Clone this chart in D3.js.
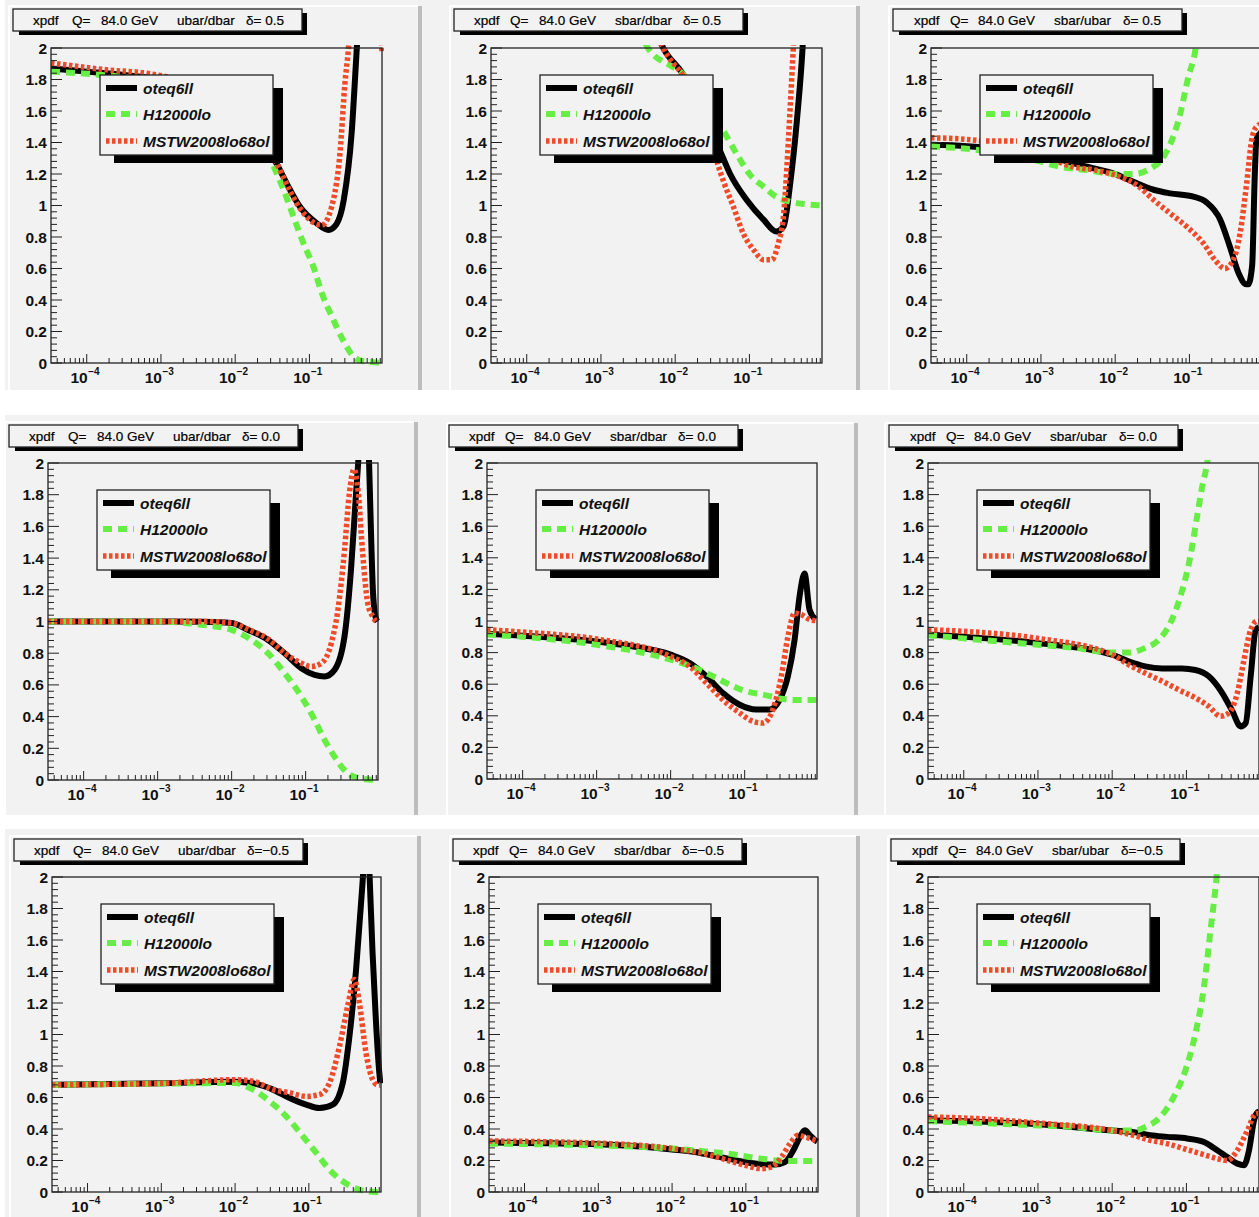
<!DOCTYPE html>
<html>
<head>
<meta charset="utf-8">
<script src="https://cdn.jsdelivr.net/npm/d3@7"></script>
<style>
  body { margin: 0; background: #fff; }
  svg { display: block; }
  .band { fill: #f2f2f2; }
  .hilite { stroke: #fff; stroke-width: 2; }
  .bevel { fill: #bdbdbd; }
  .frame { fill: none; stroke: #222; stroke-width: 1.3; }
  .tick { stroke: #222; stroke-width: 1; }
  .axlab { font-family: "Liberation Sans", Arial, sans-serif; font-weight: bold; font-size: 15.5px; fill: #111; }
  .axsup { font-family: "Liberation Sans", Arial, sans-serif; font-weight: bold; font-size: 10px; fill: #111; }
  .tbox { fill: #f2f2f2; stroke: #222; stroke-width: 1.3; }
  .shadow { fill: #000; }
  .ttext { font-family: "Liberation Sans", Arial, sans-serif; font-size: 13.5px; fill: #000; stroke: #000; stroke-width: 0.2; }
  .ltext { font-family: "Liberation Sans", Arial, sans-serif; font-weight: bold; font-style: italic; font-size: 15.5px; fill: #111; }
</style>
</head>
<body>
<script>
// ============================================================
// xpdf ratios at Q = 84 GeV, three PDF sets
// columns: ubar/dbar, sbar/dbar, sbar/ubar
// rows: delta = 0.5, 0.0, -0.5
// ============================================================

var pdfNames = ["oteq6ll", "H12000lo", "MSTW2008lo68ol"];
var ratioNames = ["ubar/dbar", "sbar/dbar", "sbar/ubar"];
var deltaLabels = ["\u03b4= 0.5", "\u03b4= 0.0", "\u03b4=\u22120.5"];
var scaleLabel = "84.0 GeV";
var xDomain = [3.3e-5, 0.95];
var yDomain = [0, 2];
var yTickValues = [0, 0.2, 0.4, 0.6, 0.8, 1, 1.2, 1.4, 1.6, 1.8, 2];
var xTickExponents = [-4, -3, -2, -1];

// ---- delta = 0.5 ----
var cteq_ud_p05 = [[3.3e-5,1.87],[1e-4,1.85],[3e-4,1.83],[1e-3,1.80],[3e-3,1.74],[1e-2,1.60],[0.02,1.46],[0.036,1.267],[0.055,1.098],[0.075,0.99],[0.126,0.887],[0.18,0.845],[0.23,0.88],[0.29,1.035],[0.37,1.457],[0.435,2.0],[0.55,2.8],[0.7,3.5],[0.95,4]];
var h1_ud_p05 = [[3.3e-5,1.85],[2.5e-4,1.82],[1e-3,1.78],[3e-3,1.70],[1e-2,1.55],[0.02,1.40],[0.033,1.246],[0.045,1.098],[0.061,0.929],[0.083,0.76],[0.113,0.612],[0.147,0.443],[0.2,0.296],[0.29,0.137],[0.41,0.032],[0.53,0.011],[0.77,0.004],[0.95,0.0]];
var mstw_ud_p05 = [[3.3e-5,1.905],[2e-4,1.86],[6.4e-4,1.84],[3e-3,1.76],[1e-2,1.62],[0.02,1.47],[0.036,1.27],[0.055,1.09],[0.075,0.98],[0.147,0.876],[0.21,1.035],[0.26,1.35],[0.30,1.77],[0.336,2.0],[0.4,2.6],[0.6,2.8],[0.85,2.3],[0.95,1.98]];

var cteq_sd_p05 = [[3.3e-5,6],[1e-3,3.5],[3e-3,2.5],[0.0069,2.0],[0.0129,1.83],[0.02,1.65],[0.03,1.48],[0.04,1.35],[0.055,1.20],[0.092,1.035],[0.155,0.91],[0.23,0.835],[0.29,0.87],[0.35,1.12],[0.44,1.56],[0.52,2.0],[0.6,2.6],[0.95,4]];
var h1_sd_p05 = [[3.3e-5,6],[1e-3,3.0],[0.0043,2.0],[0.0085,1.89],[0.011,1.86],[0.02,1.72],[0.03,1.60],[0.045,1.47],[0.067,1.33],[0.1,1.20],[0.155,1.12],[0.23,1.055],[0.35,1.025],[0.53,1.01],[0.95,1.0]];
var mstw_sd_p05 = [[3.3e-5,6],[1e-3,3.5],[3e-3,2.5],[0.0069,2.0],[0.0129,1.82],[0.02,1.66],[0.03,1.44],[0.036,1.29],[0.045,1.15],[0.061,0.99],[0.083,0.82],[0.113,0.72],[0.155,0.655],[0.2,0.655],[0.245,0.76],[0.29,0.95],[0.32,1.246],[0.35,1.58],[0.39,2.0],[0.45,2.6],[0.95,4]];

var cteq_su_p05 = [[3.3e-5,1.385],[1e-4,1.377],[3e-4,1.36],[1e-3,1.32],[0.0042,1.246],[0.01,1.20],[0.0176,1.15],[0.033,1.10],[0.055,1.077],[0.113,1.056],[0.17,1.02],[0.26,0.91],[0.35,0.74],[0.46,0.57],[0.58,0.50],[0.62,0.50],[0.7,0.62],[0.76,1.2],[0.8,1.42],[0.95,1.47]];
var h1_su_p05 = [[3.3e-5,1.375],[1e-4,1.36],[3e-4,1.33],[8e-4,1.29],[0.0018,1.246],[0.0042,1.225],[0.01,1.20],[0.0176,1.20],[0.03,1.235],[0.042,1.29],[0.058,1.415],[0.075,1.58],[0.097,1.82],[0.12,1.985],[0.15,2.4],[0.3,4],[0.95,6]];
var mstw_su_p05 = [[3.3e-5,1.43],[1e-4,1.42],[3e-4,1.39],[1e-3,1.34],[0.0022,1.257],[0.006,1.22],[0.012,1.18],[0.0195,1.13],[0.033,1.035],[0.055,0.95],[0.092,0.866],[0.154,0.76],[0.23,0.644],[0.3,0.60],[0.39,0.655],[0.48,0.82],[0.59,1.14],[0.69,1.415],[0.8,1.50],[0.95,1.52]];

// ---- delta = 0.0 ----
var cteq_ud_z00 = [[3.3e-5,1.0],[1e-3,1.0],[0.004,0.998],[0.01,0.99],[0.0167,0.947],[0.031,0.884],[0.052,0.80],[0.0875,0.705],[0.132,0.663],[0.18,0.653],[0.246,0.695],[0.335,0.905],[0.41,1.326],[0.48,1.81],[0.52,2.05],[0.6,2.8],[0.7,2.2],[0.76,1.6],[0.81,1.2],[0.87,1.04],[0.93,1.0]];
var h1_ud_z00 = [[3.3e-5,1.0],[1e-3,1.0],[0.0039,0.98],[0.01,0.947],[0.0185,0.884],[0.031,0.80],[0.052,0.674],[0.0875,0.526],[0.132,0.38],[0.18,0.253],[0.246,0.147],[0.37,0.042],[0.56,0.01],[0.93,0.0]];
var mstw_ud_z00 = [[3.3e-5,1.0],[1e-3,1.0],[0.004,1.0],[0.01,0.99],[0.0167,0.95],[0.031,0.89],[0.052,0.80],[0.0875,0.737],[0.119,0.716],[0.163,0.737],[0.222,0.863],[0.273,1.074],[0.335,1.45],[0.39,1.81],[0.45,1.96],[0.51,1.83],[0.59,1.43],[0.69,1.116],[0.81,1.03],[0.93,0.99]];

var cteq_sd_z00 = [[3.3e-5,0.92],[1e-4,0.907],[1e-3,0.87],[3e-3,0.84],[0.01,0.787],[0.0181,0.734],[0.0304,0.65],[0.051,0.544],[0.0857,0.47],[0.1436,0.44],[0.217,0.44],[0.296,0.50],[0.384,0.65],[0.473,0.88],[0.552,1.156],[0.645,1.30],[0.754,1.07],[0.908,1.01]];
var h1_sd_z00 = [[3.3e-5,0.914],[1e-4,0.90],[1e-3,0.85],[0.01,0.755],[0.0223,0.70],[0.0374,0.65],[0.063,0.597],[0.105,0.555],[0.177,0.534],[0.296,0.51],[0.497,0.50],[0.93,0.50]];
var mstw_sd_z00 = [[3.3e-5,0.945],[1e-4,0.93],[1e-3,0.886],[0.01,0.776],[0.0181,0.713],[0.0304,0.607],[0.051,0.50],[0.0857,0.418],[0.129,0.365],[0.177,0.354],[0.241,0.44],[0.313,0.65],[0.384,0.90],[0.473,1.05],[0.582,1.04],[0.754,1.01],[0.93,1.0]];

var cteq_su_z00 = [[3.3e-5,0.914],[1e-4,0.90],[1e-3,0.86],[0.01,0.787],[0.0166,0.745],[0.0279,0.713],[0.0468,0.70],[0.0873,0.70],[0.1324,0.69],[0.2,0.65],[0.304,0.544],[0.415,0.43],[0.538,0.333],[0.63,0.355],[0.734,0.65],[0.86,0.945],[0.95,0.96]];
var h1_su_z00 = [[3.3e-5,0.91],[1e-4,0.89],[1e-3,0.85],[0.00315,0.83],[0.01,0.80],[0.0166,0.80],[0.0279,0.83],[0.0423,0.88],[0.0607,0.987],[0.083,1.156],[0.113,1.41],[0.139,1.66],[0.163,1.85],[0.19,2.0],[0.25,2.6],[0.5,4],[0.95,6]];
var mstw_su_z00 = [[3.3e-5,0.945],[1e-4,0.935],[1e-3,0.89],[0.01,0.787],[0.0166,0.724],[0.0279,0.67],[0.0468,0.62],[0.0787,0.565],[0.1324,0.513],[0.2,0.46],[0.288,0.397],[0.374,0.418],[0.485,0.544],[0.597,0.755],[0.734,0.945],[0.904,1.0],[0.95,1.0]];

// ---- delta = -0.5 ----
var cteq_ud_m05 = [[3.3e-5,0.681],[1e-3,0.69],[0.01,0.70],[0.0175,0.69],[0.0327,0.65],[0.0548,0.597],[0.092,0.555],[0.139,0.533],[0.211,0.555],[0.288,0.692],[0.355,0.99],[0.436,1.41],[0.509,1.83],[0.548,2.05],[0.6,2.5],[0.66,2.05],[0.73,1.52],[0.81,1.09],[0.9,0.76],[0.93,0.69]];
var h1_ud_m05 = [[3.3e-5,0.68],[1e-3,0.688],[0.01,0.692],[0.0175,0.65],[0.0294,0.576],[0.0494,0.48],[0.083,0.353],[0.126,0.248],[0.19,0.142],[0.288,0.068],[0.484,0.015],[0.813,0.0],[0.93,0.0]];
var mstw_ud_m05 = [[3.3e-5,0.68],[1e-3,0.69],[0.01,0.713],[0.0175,0.703],[0.0327,0.65],[0.0548,0.63],[0.092,0.607],[0.139,0.618],[0.19,0.692],[0.26,0.925],[0.336,1.18],[0.414,1.35],[0.484,1.20],[0.596,0.88],[0.733,0.713],[0.855,0.68],[0.93,0.68]];

var cteq_sd_m05 = [[3.3e-5,0.314],[1e-3,0.303],[0.01,0.27],[0.0203,0.254],[0.0342,0.233],[0.0575,0.212],[0.097,0.19],[0.163,0.176],[0.248,0.174],[0.339,0.19],[0.44,0.265],[0.54,0.35],[0.63,0.392],[0.739,0.36],[0.865,0.33],[0.93,0.32]];
var h1_sd_m05 = [[3.3e-5,0.307],[1e-3,0.295],[0.01,0.276],[0.0342,0.254],[0.0575,0.244],[0.097,0.227],[0.163,0.212],[0.27,0.20],[0.46,0.197],[0.93,0.197]];
var mstw_sd_m05 = [[3.3e-5,0.324],[1e-3,0.31],[0.01,0.276],[0.0342,0.233],[0.0575,0.20],[0.097,0.17],[0.163,0.148],[0.223,0.159],[0.305,0.223],[0.396,0.307],[0.513,0.36],[0.63,0.35],[0.865,0.33],[0.93,0.325]];

var cteq_su_m05 = [[3.3e-5,0.455],[1e-4,0.45],[1e-3,0.43],[0.01,0.39],[0.0194,0.38],[0.0326,0.36],[0.0547,0.35],[0.102,0.34],[0.172,0.317],[0.26,0.265],[0.355,0.222],[0.485,0.18],[0.597,0.17],[0.697,0.265],[0.815,0.455],[0.885,0.50],[0.95,0.51]];
var h1_su_m05 = [[3.3e-5,0.45],[1e-3,0.423],[3e-3,0.413],[0.01,0.39],[0.0194,0.39],[0.0294,0.417],[0.0445,0.476],[0.0674,0.603],[0.097,0.773],[0.132,1.005],[0.172,1.30],[0.211,1.66],[0.255,2.0],[0.3,2.4],[0.6,4],[0.95,6]];
var mstw_su_m05 = [[3.3e-5,0.476],[1e-4,0.47],[1e-3,0.438],[0.01,0.39],[0.0194,0.36],[0.0326,0.328],[0.0547,0.307],[0.092,0.275],[0.155,0.243],[0.26,0.212],[0.355,0.20],[0.485,0.265],[0.662,0.39],[0.86,0.497],[0.95,0.50]];

var panelCurves = [
    [cteq_ud_p05, h1_ud_p05, mstw_ud_p05], [cteq_sd_p05, h1_sd_p05, mstw_sd_p05], [cteq_su_p05, h1_su_p05, mstw_su_p05],
    [cteq_ud_z00, h1_ud_z00, mstw_ud_z00], [cteq_sd_z00, h1_sd_z00, mstw_sd_z00], [cteq_su_z00, h1_su_z00, mstw_su_z00],
    [cteq_ud_m05, h1_ud_m05, mstw_ud_m05], [cteq_sd_m05, h1_sd_m05, mstw_sd_m05], [cteq_su_m05, h1_su_m05, mstw_su_m05]
];

// ---- layout (pixels) ----
var W = 1259, H = 1217;
var rowBands = [[0, 390], [415, 815], [829, 1217]];
// frame: left, right, top, bottom
var frames = [
    [51, 382, 48, 363], [491, 822, 48, 363], [931, 1262, 48, 363],
    [48, 378, 463, 780], [487, 817, 463, 779], [928, 1259, 463, 779],
    [52, 381, 877, 1192], [489, 818, 877, 1192], [928, 1259, 877, 1192]
];
var titleBoxes = [[13, 9], [454, 9], [893, 9], [9, 425], [449, 425], [889, 425], [14, 839], [453, 839], [891, 839]];
// pad edges: left, top, right bevel
var padEdges = [
    [9, 6, 418], [450, 6, 856], [889, 6, 1262],
    [5, 422, 414], [447, 423, 854], [885, 423, 1262],
    [10, 836, 417], [450, 836, 856], [888, 836, 1262]
];
var titleOffsets = [[20, 59, 88, 164, 233], [20, 56, 85, 161, 229], [21, 57, 85, 161, 230]];

var lineColors = ["#000000", "#66ee44", "#f04a28"];
var lineWidths = [6, 6, 5.5];
var lineDash = [null, "9,6", "3.5,2.5"];

var svg = d3.select("body").append("svg")
    .attr("width", W)
    .attr("height", H);

// Canvas background bands
rowBands.forEach(function(b) {
    svg.append("rect")
        .attr("class", "band")
        .attr("x", 5)
        .attr("y", b[0])
        .attr("width", W - 5)
        .attr("height", b[1] - b[0]);
});

// Pad bevels
padEdges.forEach(function(p, i) {
    var band = rowBands[Math.floor(i / 3)];
    svg.append("line").attr("class", "hilite")
        .attr("x1", p[0]).attr("y1", p[1]).attr("x2", p[2]).attr("y2", p[1]);
    svg.append("line").attr("class", "hilite")
        .attr("x1", p[0]).attr("y1", p[1]).attr("x2", p[0]).attr("y2", band[1]);
    svg.append("rect").attr("class", "bevel")
        .attr("x", p[2]).attr("y", p[1])
        .attr("width", 4).attr("height", band[1] - p[1]);
});

function drawPanel(i) {
    var row = Math.floor(i / 3), col = i % 3;
    var f = frames[i];
    var x = d3.scaleLog().domain(xDomain).range([f[0], f[1]]);
    var y = d3.scaleLinear().domain(yDomain).range([f[3], f[2]]);
    var g = svg.append("g");

    var clipId = "clip" + i;
    g.append("clipPath").attr("id", clipId)
        .append("rect")
        .attr("x", f[0] - 2).attr("y", f[2] - 3)
        .attr("width", f[1] - f[0] + 4).attr("height", f[3] - f[2] + 7);

    // Curves
    var line = d3.line()
        .x(function(d) { return x(d[0]); })
        .y(function(d) { return y(d[1]); })
        .curve(d3.curveMonotoneX);

    panelCurves[i].forEach(function(data, s) {
        g.append("path")
            .datum(data)
            .attr("clip-path", "url(#" + clipId + ")")
            .attr("d", line)
            .attr("fill", "none")
            .attr("stroke", lineColors[s])
            .attr("stroke-width", lineWidths[s])
            .attr("stroke-dasharray", lineDash[s])
            .attr("stroke-linejoin", "round");
    });

    // Frame
    g.append("rect").attr("class", "frame")
        .attr("x", f[0]).attr("y", f[2])
        .attr("width", f[1] - f[0]).attr("height", f[3] - f[2]);

    // Y ticks (inward) : major every 0.2, minor every 0.04
    d3.range(0, 2.0001, 0.04).forEach(function(v) {
        var major = Math.abs(v / 0.2 - Math.round(v / 0.2)) < 1e-6;
        g.append("line").attr("class", "tick")
            .attr("x1", f[0]).attr("x2", f[0] + (major ? 11 : 6))
            .attr("y1", y(v)).attr("y2", y(v));
    });
    yTickValues.forEach(function(v) {
        g.append("text").attr("class", "axlab")
            .attr("x", f[0] - 4)
            .attr("y", y(v) + 5.5)
            .attr("text-anchor", "end")
            .text(String(+v.toFixed(1)));
    });

    // X ticks (log) : decades long, 2..9 short
    for (var k = -5; k <= 0; k++) {
        for (var m = 1; m <= 9; m++) {
            var v = m * Math.pow(10, k);
            if (v < xDomain[0] || v > xDomain[1]) continue;
            g.append("line").attr("class", "tick")
                .attr("x1", x(v)).attr("x2", x(v))
                .attr("y1", f[3]).attr("y2", f[3] - (m === 1 ? 9 : 5));
        }
    }
    xTickExponents.forEach(function(e) {
        var tx = x(Math.pow(10, e));
        g.append("text").attr("class", "axlab")
            .attr("x", tx + 1)
            .attr("y", f[3] + 20)
            .attr("text-anchor", "end")
            .text("10");
        g.append("text").attr("class", "axsup")
            .attr("x", tx + 1.5)
            .attr("y", f[3] + 12)
            .text("\u2212" + Math.abs(e));
    });

    // Title box
    var tb = titleBoxes[i], tw = 289, th = 22;
    g.append("rect").attr("class", "shadow")
        .attr("x", tb[0] + 6).attr("y", tb[1] + 4)
        .attr("width", tw - 1).attr("height", th);
    g.append("rect").attr("class", "tbox")
        .attr("x", tb[0]).attr("y", tb[1])
        .attr("width", tw).attr("height", th);
    var off = titleOffsets[col];
    var parts = ["xpdf", "Q=", scaleLabel, ratioNames[col], deltaLabels[row]];
    var tt = g.append("text").attr("class", "ttext").attr("y", tb[1] + 15.5);
    parts.forEach(function(p, j) {
        tt.append("tspan").attr("x", tb[0] + off[j]).text(p);
    });

    // Legend
    var lx = f[0] + 49, ly = f[2] + 27, lw = 173, lh = 80;
    g.append("rect").attr("class", "shadow")
        .attr("x", lx + 14).attr("y", ly + 13)
        .attr("width", lw - 4).attr("height", lh - 5);
    g.append("rect").attr("class", "tbox")
        .attr("x", lx).attr("y", ly)
        .attr("width", lw).attr("height", lh);
    var rowY = [13, 39, 66];
    pdfNames.forEach(function(name, s) {
        g.append("line")
            .attr("x1", lx + 6).attr("x2", lx + 37)
            .attr("y1", ly + rowY[s]).attr("y2", ly + rowY[s])
            .attr("stroke", lineColors[s])
            .attr("stroke-width", lineWidths[s])
            .attr("stroke-dasharray", lineDash[s]);
        g.append("text").attr("class", "ltext")
            .attr("x", lx + 43)
            .attr("y", ly + rowY[s] + 5.5)
            .text(name);
    });
}

for (var i = 0; i < 9; i++) {
    drawPanel(i);
}
</script>
</body>
</html>
